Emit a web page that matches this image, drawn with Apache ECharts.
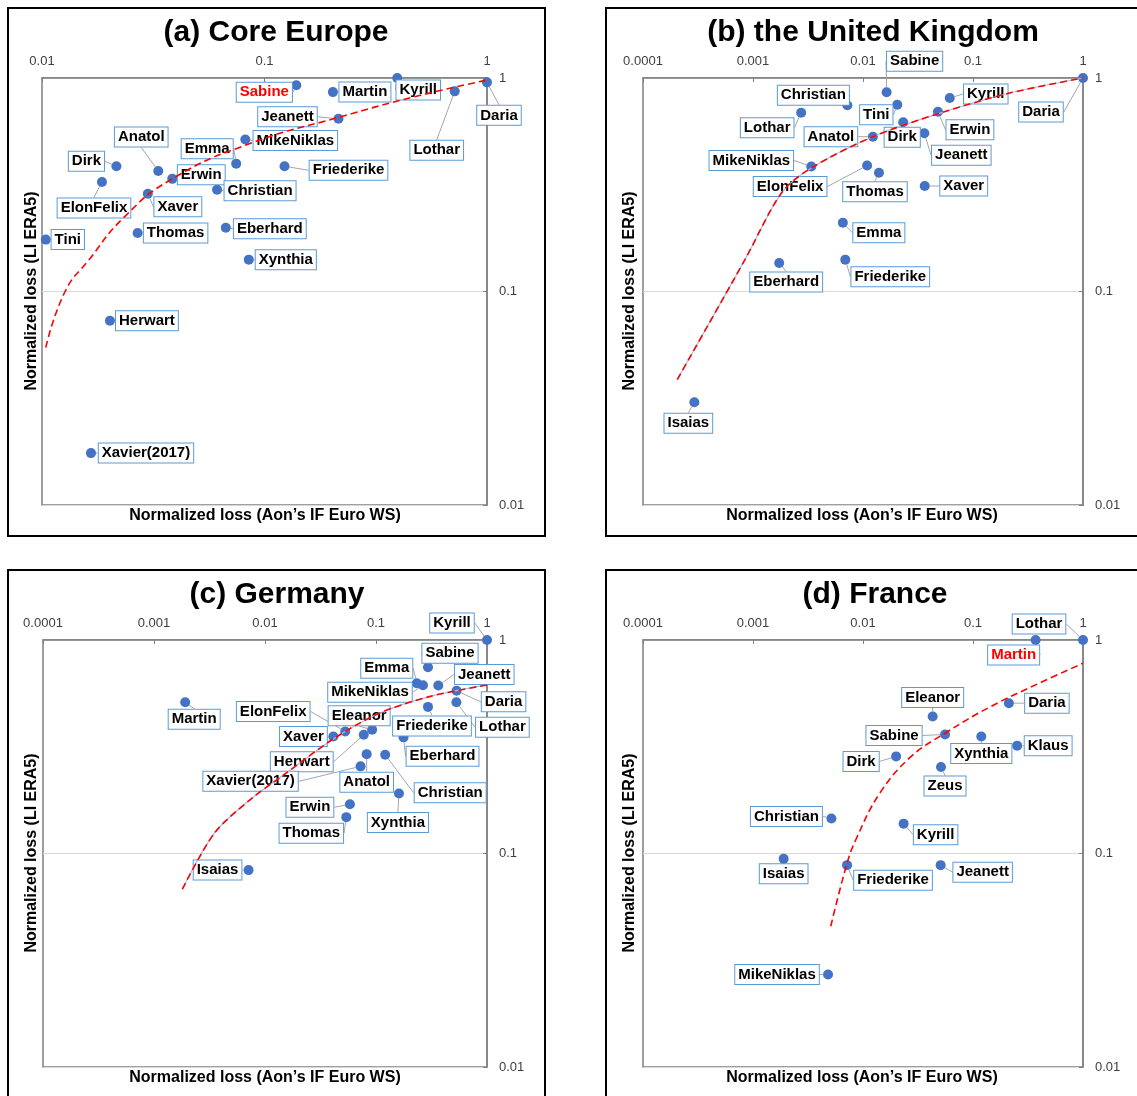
<!DOCTYPE html>
<html>
<head>
<meta charset="utf-8">
<script src="https://cdn.jsdelivr.net/npm/echarts@6/dist/echarts.min.js"></script>
<style>
  html, body { margin: 0; padding: 0; background: #fff; }
  #chart { width: 1137px; height: 1096px; }
</style>
</head>
<body>
<div id="chart"></div>
<script>
// ---------------- DATA ----------------
const xTicksA = ['0.01', '0.1', '1'];
const xTicksBCD = ['0.0001', '0.001', '0.01', '0.1', '1'];
const yTicks = ['0.01', '0.1', '1'];

const panelTitles = ['(a) Core Europe', '(b) the United Kingdom', '(c) Germany', '(d) France'];
const xAxisName = 'Normalized loss (Aon\u2019s IF Euro WS)';
const yAxisName = 'Normalized loss (LI ERA5)';

// (a) Core Europe
const namesA = ['Sabine','Martin','Kyrill','Lothar','Daria','Jeanett','MikeNiklas','Emma','Friederike','Dirk','Anatol','Erwin','ElonFelix','Xaver','Christian','Tini','Thomas','Eberhard','Xynthia','Herwart','Xavier(2017)'];
const xA = [0.139, 0.203, 0.395, 0.716, 1.0, 0.215, 0.082, 0.0746, 0.123, 0.0216, 0.0333, 0.0385, 0.0186, 0.0299, 0.0612, 0.0104, 0.0269, 0.067, 0.085, 0.0202, 0.0166];
const yA = [0.924, 0.859, 1.0, 0.866, 0.954, 0.644, 0.515, 0.397, 0.386, 0.386, 0.367, 0.337, 0.326, 0.287, 0.300, 0.175, 0.188, 0.199, 0.141, 0.0729, 0.0175];
const curveAx = [0.0104, 0.0127, 0.0162, 0.0234, 0.0385, 0.086, 0.215, 0.473, 1.0];
const curveAy = [0.0546, 0.100, 0.140, 0.223, 0.337, 0.493, 0.654, 0.817, 0.978];
const redA = 'Sabine';

// (b) the United Kingdom
const namesB = ['Daria','Sabine','Kyrill','Christian','Tini','Lothar','Erwin','Dirk','Anatol','Jeanett','MikeNiklas','ElonFelix','Thomas','Xaver','Emma','Eberhard','Friederike','Isaias'];
const xB = [1.0, 0.0164, 0.0615, 0.00721, 0.0205, 0.00274, 0.048, 0.0232, 0.0123, 0.0361, 0.00339, 0.0109, 0.01397, 0.0364, 0.00656, 0.00173, 0.0069, 0.000293];
const yB = [1.0, 0.857, 0.806, 0.745, 0.750, 0.688, 0.695, 0.620, 0.531, 0.551, 0.385, 0.389, 0.360, 0.312, 0.210, 0.136, 0.141, 0.0303];
const curveBx = [0.000205, 0.000845, 0.00182, 0.00336, 0.0123, 0.0494, 0.211, 1.0];
const curveBy = [0.0387, 0.141, 0.290, 0.378, 0.531, 0.683, 0.848, 1.0];

// (c) Germany
const namesC = ['Kyrill','Sabine','Emma','MikeNiklas','Jeanett','Daria','Lothar','Friederike','Martin','ElonFelix','Eleanor','Herwart','Xaver','Eberhard','Anatol','Christian','Xavier(2017)','Xynthia','Erwin','Thomas','Isaias'];
const xC = [1.0, 0.294, 0.233, 0.265, 0.364, 0.532, 0.530, 0.294, 0.00191, 0.0528, 0.0923, 0.0776, 0.0413, 0.177, 0.0824, 0.121, 0.0726, 0.161, 0.0582, 0.054, 0.00711];
const yC = [1.0, 0.745, 0.627, 0.614, 0.612, 0.578, 0.511, 0.486, 0.511, 0.373, 0.380, 0.360, 0.353, 0.350, 0.292, 0.290, 0.256, 0.191, 0.170, 0.148, 0.0836];
const curveCx = [0.0018, 0.0035, 0.00738, 0.0155, 0.0423, 0.107, 0.302, 1.0];
const curveCy = [0.068, 0.1245, 0.179, 0.238, 0.347, 0.454, 0.543, 0.616];

// (d) France
const namesD = ['Lothar','Martin','Daria','Eleanor','Sabine','Xynthia','Klaus','Dirk','Zeus','Christian','Kyrill','Isaias','Friederike','Jeanett','MikeNiklas'];
const xD = [1.0, 0.371, 0.212, 0.043, 0.0557, 0.119, 0.252, 0.020, 0.0512, 0.00516, 0.0234, 0.0019, 0.00716, 0.0508, 0.00481];
const yD = [1.0, 1.0, 0.506, 0.438, 0.361, 0.353, 0.320, 0.285, 0.254, 0.146, 0.138, 0.0944, 0.0882, 0.0882, 0.0271];
const curveDx = [0.00509, 0.00716, 0.0086, 0.01425, 0.0274, 0.0557, 0.145, 0.431, 1.0];
const curveDy = [0.0456, 0.090, 0.116, 0.192, 0.285, 0.366, 0.488, 0.639, 0.778];
const redD = 'Martin';

// ---------------- LAYOUT (label offsets in px, centre of label relative to point) ----------------
const offA = [[-32,7],[32,0],[21,12],[-18,59],[12,33],[-51,-2],[50,1],[-29,-15],[64,4],[-30,-5],[-17,-34],[29,-4],[-8,26],[30,13],[43,1],[22,0],[38,0],[44,1],[37,0],[37,0],[55,0]];
const offB = [[-42,34],[28,-31],[36,-4],[-34,-10],[-21,10],[-34,15],[32,18],[-1,15],[-42,0],[37,22],[-60,-6],[-77,21],[-4,19],[39,0],[36,10],[7,19],[45,17],[-6,21]];
const offC = [[-35,-17],[22,-14],[-30,-15],[-53,7],[46,-11],[47,11],[46,25],[4,19],[9,17],[-72,-20],[-13,-14],[-62,27],[-30,0],[39,19],[0,28],[65,38],[-110,15],[-1,29],[-40,3],[-35,16],[-31,0]];
const offD = [[-44,-16],[-22,15],[38,0],[0,-19],[-51,1],[0,17],[31,0],[-35,5],[4,19],[-45,-2],[32,11],[0,15],[46,15],[42,7],[-51,0]];

const layout = [
  {left:42,  top:78,  width:445, height:427, frame:[8,8,537,528],     title:[276,33],  xname:[265,516],  yname:[32,291],  xmin:0.01,   smooth:0.5},
  {left:643, top:78,  width:440, height:427, frame:[606,8,540,528],   title:[873,33],  xname:[862,516],  yname:[630,291], xmin:0.0001, smooth:0.3},
  {left:43,  top:640, width:444, height:427, frame:[8,570,537,540],   title:[277,595], xname:[265,1078], yname:[32,853],  xmin:0.0001, smooth:0.3},
  {left:643, top:640, width:440, height:427, frame:[606,570,540,540], title:[875,595], xname:[862,1078], yname:[630,853], xmin:0.0001, smooth:0.4}
];

const FONT = '"Liberation Sans", Arial, sans-serif';

function tickFmt(ticks) {
  return function (v) {
    const t = ticks.find(s => Math.abs(Math.log10(parseFloat(s)) - Math.log10(v)) < 1e-6);
    return t || '';
  };
}

function scatterSeries(i, names, xs, ys, offs, redName) {
  return {
    type: 'scatter', xAxisIndex: i, yAxisIndex: i, symbolSize: 10, z: 3,
    itemStyle: { color: '#4472c4', opacity: 1 },
    data: names.map((n, k) => {
      const item = { name: n, value: [xs[k], ys[k]] };
      if (n === redName) item.label = { color: '#ff0000' };
      return item;
    }),
    label: {
      show: true, position: 'inside', formatter: '{b}', color: '#000',
      fontFamily: FONT, fontWeight: 'bold', fontSize: 15, lineHeight: 17,
      backgroundColor: '#fff', borderColor: '#5b9bd5', borderWidth: 1, padding: [1, 3]
    },
    labelLine: { show: true, lineStyle: { color: '#a6a6a6', width: 1 } },
    labelLayout: function (p) {
      const o = offs[p.dataIndex];
      return {
        x: p.rect.x + p.rect.width / 2 + o[0],
        y: p.rect.y + p.rect.height / 2 + o[1],
        align: 'center', verticalAlign: 'middle'
      };
    },
    emphasis: { disabled: true }
  };
}

function curveSeries(i, cx, cy, withBlue, smooth) {
  const arr = [];
  if (withBlue) {
    arr.push({
      type: 'line', xAxisIndex: i, yAxisIndex: i, silent: true, z: 5,
      data: cx.map((v, k) => [v, cy[k]]), smooth: smooth, symbol: 'none',
      lineStyle: { color: '#9dc3e6', width: 1.2, type: 'solid' }
    });
  }
  arr.push({
    type: 'line', xAxisIndex: i, yAxisIndex: i, silent: true, z: 6,
    data: cx.map((v, k) => [v, cy[k]]), smooth: smooth, symbol: 'none',
    lineStyle: { color: '#ff0000', width: 1.6, type: [7, 4] }
  });
  return arr;
}

const grids = layout.map(L => ({
  left: L.left, top: L.top, width: L.width, height: L.height,
  show: true, borderColor: '#808080', borderWidth: 1.5, backgroundColor: 'transparent'
}));

const xAxes = layout.map((L, i) => ({
  type: 'log', logBase: 10, gridIndex: i, position: 'top', min: L.xmin, max: 1,
  axisLine: { show: true, lineStyle: { color: '#808080', width: 1.5 } },
  axisTick: { show: true, inside: true, length: 4, lineStyle: { color: '#808080' } },
  axisLabel: { color: '#404040', fontSize: 13, fontFamily: FONT, margin: 10,
               formatter: tickFmt(i === 0 ? xTicksA : xTicksBCD), showMinLabel: true, showMaxLabel: true },
  splitLine: { show: false }, minorTick: { show: false }
}));

const yAxes = layout.map((L, i) => ({
  type: 'log', logBase: 10, gridIndex: i, position: 'right', min: 0.01, max: 1,
  axisLine: { show: true, lineStyle: { color: '#808080', width: 1.5 } },
  axisTick: { show: true, inside: true, length: 4, lineStyle: { color: '#808080' } },
  axisLabel: { color: '#404040', fontSize: 13, fontFamily: FONT, margin: 12,
               formatter: tickFmt(yTicks), showMinLabel: true, showMaxLabel: true },
  splitLine: { show: true, lineStyle: { color: '#d9d9d9', width: 1 } }
}));

const series = [];
series.push(...curveSeries(0, curveAx, curveAy, false, layout[0].smooth));
series.push(scatterSeries(0, namesA, xA, yA, offA, redA));
series.push(...curveSeries(1, curveBx, curveBy, true, layout[1].smooth));
series.push(scatterSeries(1, namesB, xB, yB, offB, null));
series.push(...curveSeries(2, curveCx, curveCy, true, layout[2].smooth));
series.push(scatterSeries(2, namesC, xC, yC, offC, null));
series.push(...curveSeries(3, curveDx, curveDy, false, layout[3].smooth));
series.push(scatterSeries(3, namesD, xD, yD, offD, redD));

const graphics = [];
layout.forEach((L, i) => {
  graphics.push({
    type: 'rect', silent: true, z: 0,
    shape: { x: L.frame[0], y: L.frame[1], width: L.frame[2], height: L.frame[3] },
    style: { fill: null, stroke: '#000', lineWidth: 2 }
  });
  graphics.push({
    type: 'text', silent: true, x: L.title[0], y: L.title[1],
    style: { text: panelTitles[i], font: 'bold 30px ' + FONT, fill: '#000', textAlign: 'center', textVerticalAlign: 'middle' }
  });
  graphics.push({
    type: 'text', silent: true, x: L.xname[0], y: L.xname[1],
    style: { text: xAxisName, font: 'bold 16px ' + FONT, fill: '#000', textAlign: 'center', textVerticalAlign: 'middle' }
  });
  graphics.push({
    type: 'text', silent: true, x: L.yname[0], y: L.yname[1], rotation: Math.PI / 2,
    style: { text: yAxisName, font: 'bold 16px ' + FONT, fill: '#000', textAlign: 'center', textVerticalAlign: 'middle' }
  });
});

const chart = echarts.init(document.getElementById('chart'), null, { renderer: 'canvas' });
chart.setOption({
  animation: false,
  backgroundColor: '#fff',
  grid: grids,
  xAxis: xAxes,
  yAxis: yAxes,
  series: series,
  graphic: graphics
});
</script>
</body>
</html>
